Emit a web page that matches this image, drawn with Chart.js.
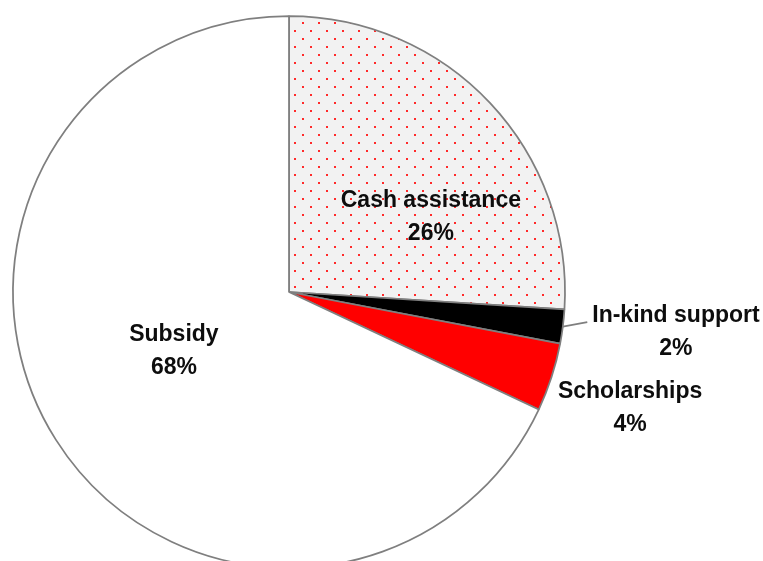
<!DOCTYPE html>
<html>
<head>
<meta charset="utf-8">
<script src="https://cdn.jsdelivr.net/npm/chart.js@4/dist/chart.umd.min.js"></script>
<style>
  html, body { margin: 0; padding: 0; background: #ffffff; overflow: hidden; }
  #wrap { width: 763px; height: 561px; overflow: hidden; position: relative; }
  canvas { display: block; }
</style>
</head>
<body>
<div id="wrap"><canvas id="chart" width="763" height="600"></canvas></div>
<script>
// Support categories and their shares (percent)
const categories = ['Cash assistance', 'In-kind support', 'Scholarships', 'Subsidy'];
const shares = [26, 2, 4, 68];

// Label anchors, as offsets from the pie centre in units of the radius
const labelAnchors = [
  [0.514, -0.272],
  [1.402, 0.147],
  [1.236, 0.420],
  [-0.417, 0.216]
];
// Slices whose label sits outside the pie and gets a leader line
const leaderSlices = [1];

// Dotted fill: red dots on light grey, staggered rows
function dotPattern() {
  const t = document.createElement('canvas');
  t.width = 16; t.height = 16;
  const c = t.getContext('2d');
  c.fillStyle = '#f2f2f2';
  c.fillRect(0, 0, 16, 16);
  c.fillStyle = '#ff2a2a';
  c.fillRect(6, 14, 2, 2);
  c.fillRect(14, 6, 2, 2);
  return document.getElementById('chart').getContext('2d').createPattern(t, 'repeat');
}

const FONT = 'bold 23px "Liberation Sans", Arial, sans-serif';
const LINE_GAP = 33;

const sliceLabels = {
  id: 'sliceLabels',
  afterDatasetsDraw(chart) {
    const ctx = chart.ctx;
    const meta = chart.getDatasetMeta(0);
    const total = shares.reduce((a, b) => a + b, 0);
    ctx.save();
    ctx.font = FONT;
    ctx.fillStyle = '#0d0d0d';
    ctx.textAlign = 'center';
    ctx.textBaseline = 'middle';
    meta.data.forEach((arc, i) => {
      const p = arc.getProps(['x', 'y', 'outerRadius', 'startAngle', 'endAngle'], true);
      const r = p.outerRadius;
      const lx = p.x + labelAnchors[i][0] * r;
      const ly = p.y + labelAnchors[i][1] * r;
      const line1 = categories[i];
      const line2 = Math.round(shares[i] / total * 100) + '%';
      const y1 = ly - LINE_GAP / 2;
      const y2 = ly + LINE_GAP / 2;
      ctx.fillText(line1, lx, y1);
      ctx.fillText(line2, lx, y2);
      if (leaderSlices.includes(i)) {
        const mid = (p.startAngle + p.endAngle) / 2;
        const sx = p.x + Math.cos(mid) * r;
        const sy = p.y + Math.sin(mid) * r;
        const ex = lx - ctx.measureText(line1).width / 2 - 5;
        const ey = y1 + 6;
        ctx.save();
        ctx.strokeStyle = '#7f7f7f';
        ctx.lineWidth = 1.75;
        ctx.beginPath();
        ctx.moveTo(sx, sy);
        ctx.lineTo(ex, ey);
        ctx.stroke();
        ctx.restore();
      }
    });
    ctx.restore();
  }
};

new Chart(document.getElementById('chart'), {
  type: 'pie',
  data: {
    labels: categories,
    datasets: [{
      data: shares,
      backgroundColor: [dotPattern(), '#000000', '#ff0000', '#ffffff'],
      borderColor: '#7f7f7f',
      borderWidth: 1.75
    }]
  },
  options: {
    responsive: false,
    animation: false,
    devicePixelRatio: 1,
    radius: 276,
    layout: { padding: { left: 0, right: 185, top: 0, bottom: 16 } },
    plugins: {
      legend: { display: false },
      tooltip: { enabled: false }
    }
  },
  plugins: [sliceLabels]
});
</script>
</body>
</html>
